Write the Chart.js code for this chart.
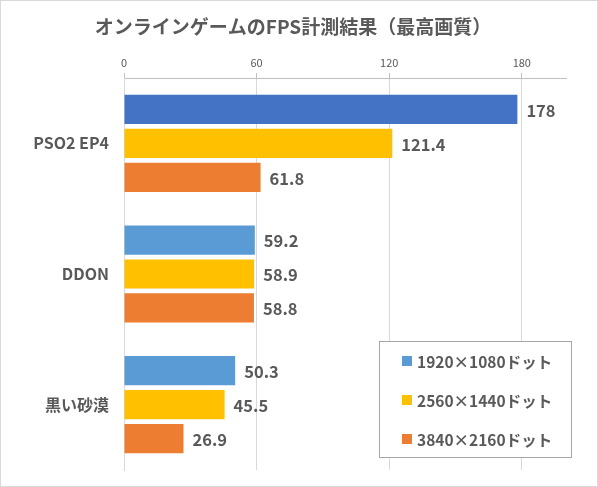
<!DOCTYPE html>
<html>
<head>
<meta charset="utf-8">
<script src="https://cdn.jsdelivr.net/npm/chart.js@4"></script>
<style>
  html, body { margin: 0; padding: 0; background: #fff; }
  #wrap { width: 598px; height: 487px; }
</style>
</head>
<body>
<div id="wrap"><canvas id="chartFps" width="598" height="487"></canvas></div>
<script>
// ---- data ----
const chartTitle = 'オンラインゲームのFPS計測結果（最高画質）';
const categories = ['PSO2 EP4', 'DDON', '黒い砂漠'];
const seriesNames = ['1920×1080ドット', '2560×1440ドット', '3840×2160ドット'];
const fps1080 = [178, 59.2, 50.3];
const fps1440 = [121.4, 58.9, 45.5];
const fps2160 = [61.8, 58.8, 26.9];
const xTicks = [0, 60, 120, 180];

const textGray = '#595959';
const jpFont = '"Noto Sans CJK JP", "Noto Sans", sans-serif';

// title, drawn off-centre like the original
const titleText = {
    id: 'titleText',
    afterDraw(chart) {
        const ctx = chart.ctx;
        ctx.save();
        ctx.font = 'bold 19px ' + jpFont;
        ctx.fillStyle = textGray;
        ctx.textAlign = 'center';
        ctx.textBaseline = 'middle';
        ctx.fillText(chartTitle, 293, 27);
        ctx.restore();
    }
};

// value labels at the end of each bar
const barLabels = {
    id: 'barLabels',
    afterDatasetsDraw(chart) {
        const ctx = chart.ctx;
        ctx.save();
        ctx.font = 'bold 16.5px ' + jpFont;
        ctx.fillStyle = textGray;
        ctx.textAlign = 'left';
        ctx.textBaseline = 'middle';
        chart.data.datasets.forEach(function(ds, i) {
            chart.getDatasetMeta(i).data.forEach(function(bar, j) {
                ctx.fillText(String(ds.data[j]), bar.x + 9, bar.y + 1);
            });
        });
        ctx.restore();
    }
};

// boxed legend inside the plot, plus the outer frame
const boxLegend = {
    id: 'boxLegend',
    afterDraw(chart) {
        const ctx = chart.ctx;
        ctx.save();
        ctx.fillStyle = '#fff';
        ctx.fillRect(380, 342, 192, 116);
        ctx.strokeStyle = '#a6a6a6';
        ctx.lineWidth = 1;
        ctx.strokeRect(379.5, 341.5, 192, 116);
        const swatch = ['#5B9BD5', '#FFC000', '#ED7D31'];
        const rows = [361, 400, 439];
        ctx.font = 'bold 15.5px ' + jpFont;
        ctx.textBaseline = 'middle';
        seriesNames.forEach(function(name, i) {
            ctx.fillStyle = swatch[i];
            ctx.fillRect(402, rows[i] - 5, 10, 10);
            ctx.fillStyle = textGray;
            ctx.fillText(name, 417, rows[i] + 1);
        });
        ctx.strokeStyle = '#d9d9d9';
        ctx.strokeRect(0.5, 0.5, 597, 486);
        ctx.restore();
    }
};

const ctx = document.getElementById('chartFps').getContext('2d');
new Chart(ctx, {
    type: 'bar',
    data: {
        labels: categories,
        datasets: [
            { label: seriesNames[0], data: fps1080, backgroundColor: ['#4472C4', '#5B9BD5', '#5B9BD5'] },
            { label: seriesNames[1], data: fps1440, backgroundColor: '#FFC000' },
            { label: seriesNames[2], data: fps2160, backgroundColor: '#ED7D31' }
        ]
    },
    options: {
        indexAxis: 'y',
        responsive: false,
        animation: false,
        devicePixelRatio: 1,
        categoryPercentage: 0.78,
        barPercentage: 0.86,
        layout: { padding: { left: 0, right: 32, top: 48, bottom: 17 } },
        plugins: {
            legend: { display: false },
            tooltip: { enabled: false },
            title: { display: false }
        },
        scales: {
            x: {
                position: 'top',
                min: 0,
                max: 200,
                afterBuildTicks: function(scale) {
                    scale.ticks = xTicks.map(function(v) { return { value: v }; });
                },
                afterFit: function(scale) { scale.height = 30; },
                grid: { color: '#d9d9d9', tickColor: '#bfbfbf', tickLength: 5 },
                border: { color: '#bfbfbf' },
                ticks: {
                    color: textGray,
                    padding: 4,
                    font: { family: jpFont, size: 11 }
                }
            },
            y: {
                afterFit: function(scale) {
                    scale.width = 124;
                    scale.paddingTop = 0;
                    scale.paddingBottom = 0;
                },
                grid: { display: false, drawTicks: false },
                border: { color: '#d9d9d9' },
                ticks: {
                    color: textGray,
                    padding: 15,
                    font: { family: jpFont, size: 16, weight: 'bold' }
                }
            }
        }
    },
    plugins: [titleText, barLabels, boxLegend]
});
</script>
</body>
</html>
